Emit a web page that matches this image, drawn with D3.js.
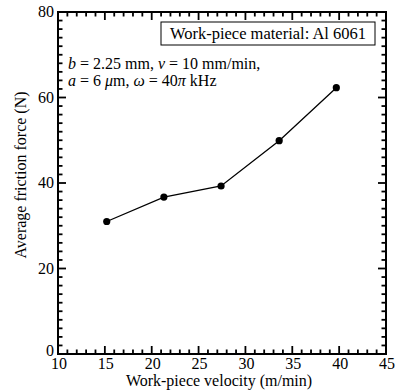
<!DOCTYPE html>
<html>
<head>
<meta charset="utf-8">
<script src="https://cdn.jsdelivr.net/npm/d3@7"></script>
<style>
  body { margin: 0; background: #fff; }
</style>
</head>
<body>
<div class="chart"></div>
<script>
// data
var velocity = [15.2, 21.3, 27.4, 33.6, 39.7];
var friction = [31.0, 36.7, 39.3, 49.9, 62.3];
var xTicks = [10, 15, 20, 25, 30, 35, 40, 45];
var yTicks = [0, 20, 40, 60, 80];

var svgWidth = 396;
var svgHeight = 391;
var serif = '"Liberation Serif", "Times New Roman", serif';

var margin = { top: 12, right: 10, bottom: 37, left: 58 };
var plotLeft = margin.left;
var plotRight = svgWidth - margin.right;
var plotTop = margin.top;
var plotBottom = svgHeight - margin.bottom;

var svg = d3.select('.chart')
  .append('svg')
  .attr('width', svgWidth)
  .attr('height', svgHeight)
  .style('font-family', serif);

// scales map straight to page pixels
var xScale = d3.scaleLinear().domain([10, 45]).range([plotLeft, plotRight]);
var yScale = d3.scaleLinear().domain([0, 80]).range([plotBottom, plotTop]);

// minor ticks every 1 on x, every 2 on y; majors at the labelled values
var xTickMarks = d3.range(10, 46, 1).map(v => ({ v: v, len: v % 5 === 0 ? 8 : 4.5 }));
var yTickMarks = d3.range(0, 81, 2).map(v => ({ v: v, len: v % 20 === 0 ? 8 : 4.5 }));

// bottom and top edges, pointing inwards
[[plotBottom, -1], [plotTop, 1]].forEach(function(s, i) {
  svg.selectAll('.xt' + i)
    .data(xTickMarks)
    .enter()
    .append('line')
    .attr('class', 'xt' + i)
    .attr('x1', d => xScale(d.v))
    .attr('x2', d => xScale(d.v))
    .attr('y1', s[0])
    .attr('y2', d => s[0] + s[1] * d.len)
    .attr('stroke', 'black')
    .attr('stroke-width', 1.8);
});

// left and right edges
[[plotLeft, 1], [plotRight, -1]].forEach(function(s, i) {
  svg.selectAll('.yt' + i)
    .data(yTickMarks)
    .enter()
    .append('line')
    .attr('class', 'yt' + i)
    .attr('y1', d => yScale(d.v))
    .attr('y2', d => yScale(d.v))
    .attr('x1', s[0])
    .attr('x2', d => s[0] + s[1] * d.len)
    .attr('stroke', 'black')
    .attr('stroke-width', 1.8);
});

// frame
svg.append('path')
  .attr('d', `M${plotLeft},${plotTop}H${plotRight}V${plotBottom}H${plotLeft}Z`)
  .attr('fill', 'none')
  .attr('stroke', 'black')
  .attr('stroke-width', 2);

// tick labels
svg.selectAll('.xlab')
  .data(xTicks)
  .enter()
  .append('text')
  .attr('class', 'xlab')
  .attr('x', d => xScale(d) + 1)
  .attr('y', plotBottom + 15)
  .attr('text-anchor', 'middle')
  .attr('font-size', 16)
  .text(d => d);

svg.selectAll('.ylab')
  .data(yTicks)
  .enter()
  .append('text')
  .attr('class', 'ylab')
  .attr('x', plotLeft - 4)
  .attr('y', d => yScale(d) + (d === 0 ? 2 : 5))
  .attr('text-anchor', 'end')
  .attr('font-size', 16)
  .text(d => d);

// line and markers
var pts = velocity.map((v, i) => ({ x: v, y: friction[i] }));

svg.append('path')
  .datum(pts)
  .attr('fill', 'none')
  .attr('stroke', '#000')
  .attr('stroke-width', 1.3)
  .attr('d', d3.line().x(d => xScale(d.x)).y(d => yScale(d.y)));

svg.selectAll('circle')
  .data(pts)
  .enter()
  .append('circle')
  .attr('cx', d => xScale(d.x))
  .attr('cy', d => yScale(d.y))
  .attr('r', 3.6)
  .attr('fill', '#000');

// legend box
svg.append('rect')
  .attr('x', plotLeft + 103)
  .attr('y', plotTop + 10)
  .attr('width', 214)
  .attr('height', 23)
  .attr('fill', '#fff')
  .attr('stroke', '#000')
  .attr('stroke-width', 1);

svg.append('text')
  .attr('x', plotLeft + 210)
  .attr('y', plotTop + 27)
  .attr('text-anchor', 'middle')
  .attr('font-size', 16.5)
  .text('Work-piece material: Al 6061');

// parameter note
var note1 = svg.append('text')
  .attr('x', plotLeft + 10)
  .attr('y', plotTop + 57)
  .attr('font-size', 16);
note1.append('tspan').attr('font-style', 'italic').text('b');
note1.append('tspan').text(' = 2.25 mm, ');
note1.append('tspan').attr('font-style', 'italic').text('v');
note1.append('tspan').text(' = 10 mm/min,');

var note2 = svg.append('text')
  .attr('x', plotLeft + 10)
  .attr('y', plotTop + 74)
  .attr('font-size', 16);
note2.append('tspan').attr('font-style', 'italic').text('a');
note2.append('tspan').text(' = 6 ');
note2.append('tspan').attr('font-style', 'italic').text('μ');
note2.append('tspan').text('m, ');
note2.append('tspan').attr('font-style', 'italic').text('ω');
note2.append('tspan').text(' = 40');
note2.append('tspan').attr('font-style', 'italic').text('π');
note2.append('tspan').text(' kHz');

// axis titles
svg.append('text')
  .attr('transform', 'rotate(-90)')
  .attr('x', -((plotTop + plotBottom) / 2) + 8)
  .attr('y', plotLeft - 32)
  .attr('text-anchor', 'middle')
  .attr('font-size', 16)
  .text('Average friction force (N)');

svg.append('text')
  .attr('x', (plotLeft + plotRight) / 2 - 3)
  .attr('y', plotBottom + 32)
  .attr('text-anchor', 'middle')
  .attr('font-size', 16)
  .text('Work-piece velocity (m/min)');
</script>
</body>
</html>
